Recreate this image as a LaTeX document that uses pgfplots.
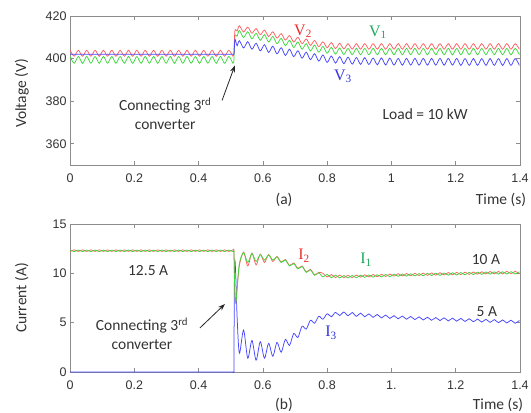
\documentclass[border=0pt]{standalone}
\usepackage{pgfplots}
\pgfplotsset{compat=1.18}
\usepackage{pgfplotstable}
\usepackage{fontspec}
\setmainfont{Carlito}
\newfontfamily\tickfont{Liberation Sans}
\newfontfamily\seriffont{Liberation Serif}
\usetikzlibrary{arrows.meta}
\definecolor{lR}{RGB}{255,95,95}
\definecolor{lG}{RGB}{60,215,60}
\definecolor{lB}{RGB}{70,70,255}
\definecolor{tR}{RGB}{235,45,45}
\definecolor{tG}{RGB}{30,170,90}
\definecolor{tB}{RGB}{50,50,225}

\pgfplotstableread{
t V1 V2 V3 I1 I2 I3
0.000 401.0 403.9 402.0 12.36 12.22 0
0.013 397.8 401.1 402.0 12.20 12.38 0
0.026 401.0 403.9 402.0 12.36 12.22 0
0.039 397.8 401.1 402.0 12.20 12.38 0
0.052 401.0 403.9 402.0 12.36 12.22 0
0.065 397.8 401.1 402.0 12.20 12.38 0
0.078 401.0 403.9 402.0 12.36 12.22 0
0.091 397.8 401.1 402.0 12.20 12.38 0
0.104 401.0 403.9 402.0 12.36 12.22 0
0.117 397.8 401.1 402.0 12.20 12.38 0
0.130 401.0 403.9 402.0 12.36 12.22 0
0.143 397.8 401.1 402.0 12.20 12.38 0
0.156 401.0 403.9 402.0 12.36 12.22 0
0.169 397.8 401.1 402.0 12.20 12.38 0
0.182 401.0 403.9 402.0 12.36 12.22 0
0.195 397.8 401.1 402.0 12.20 12.38 0
0.208 401.0 403.9 402.0 12.36 12.22 0
0.221 397.8 401.1 402.0 12.20 12.38 0
0.234 401.0 403.9 402.0 12.36 12.22 0
0.247 397.8 401.1 402.0 12.20 12.38 0
0.260 401.0 403.9 402.0 12.36 12.22 0
0.273 397.8 401.1 402.0 12.20 12.38 0
0.286 401.0 403.9 402.0 12.36 12.22 0
0.299 397.8 401.1 402.0 12.20 12.38 0
0.312 401.0 403.9 402.0 12.36 12.22 0
0.325 397.8 401.1 402.0 12.20 12.38 0
0.338 401.0 403.9 402.0 12.36 12.22 0
0.351 397.8 401.1 402.0 12.20 12.38 0
0.364 401.0 403.9 402.0 12.36 12.22 0
0.377 397.8 401.1 402.0 12.20 12.38 0
0.390 401.0 403.9 402.0 12.36 12.22 0
0.403 397.8 401.1 402.0 12.20 12.38 0
0.416 401.0 403.9 402.0 12.36 12.22 0
0.429 397.8 401.1 402.0 12.20 12.38 0
0.442 401.0 403.9 402.0 12.36 12.22 0
0.455 397.8 401.1 402.0 12.20 12.38 0
0.468 401.0 403.9 402.0 12.36 12.22 0
0.481 397.8 401.1 402.0 12.20 12.38 0
0.494 401.0 403.9 402.0 12.36 12.22 0
0.507 397.8 401.1 402.0 12.20 12.38 0
0.510 399.4 402.5 402.0 12.28 12.30 0
0.511 405.0 407.0 404.0 10.5 10.6 8.0
0.513 410.5 413.0 409.0 8.0 8.0 11.3
0.516 411.0 413.5 408.0 7.0 7.0 9.5
0.520 410.5 413.0 406.0 8.5 8.5 5.5
0.527 413.2 415.4 408.4 11.0 10.8 1.9
0.540 409.9 412.5 405.0 12.1 12.15 4.25
0.553 412.6 414.8 407.9 11.1 10.75 1.4
0.566 409.3 411.9 404.4 12.0 12.05 3.2
0.579 411.9 414.1 407.2 11.2 10.85 1.2
0.592 408.6 411.2 403.6 11.9 11.95 3.07
0.605 411.2 413.4 406.5 11.35 11.1 1.4
0.618 407.8 410.4 402.9 11.85 11.9 2.9
0.631 410.4 412.6 405.8 11.35 11.2 1.6
0.644 407.0 409.6 402.2 11.65 11.7 3.0
0.657 409.5 411.7 405.1 11.1 11.15 2.0
0.670 406.1 408.7 401.5 11.35 11.4 3.3
0.683 408.6 410.8 404.4 10.75 10.8 2.7
0.696 405.2 407.8 400.9 11.0 11.05 3.9
0.709 407.8 410.0 403.7 10.45 10.5 3.5
0.722 404.4 407.0 400.2 10.7 10.75 4.65
0.735 407.0 409.2 403.0 10.1 10.15 4.35
0.748 403.6 406.2 399.5 10.35 10.4 5.25
0.761 406.3 408.5 402.3 9.8 9.85 4.95
0.774 403.0 405.6 398.8 10.05 10.1 5.65
0.787 405.7 407.9 401.7 9.63 10.0 5.35
0.800 402.5 405.1 398.2 9.9 9.63 5.9
0.813 405.3 407.5 401.2 9.55 9.88 5.6
0.826 402.1 404.7 397.9 9.82 9.57 6.05
0.839 405.0 407.2 400.9 9.53 9.82 5.72
0.852 401.9 404.5 397.6 9.78 9.55 6.08
0.865 404.8 407.0 400.7 9.53 9.8 5.7
0.878 401.8 404.4 397.4 9.78 9.57 6.03
0.891 404.8 407.0 400.5 9.55 9.82 5.64
0.904 401.8 404.4 397.3 9.82 9.61 5.97
0.917 404.8 407.0 400.4 9.59 9.86 5.6
0.930 401.8 404.4 397.2 9.84 9.63 5.89
0.943 404.8 407.0 400.3 9.61 9.88 5.54
0.956 401.8 404.4 397.1 9.86 9.65 5.83
0.969 404.8 407.0 400.3 9.63 9.9 5.48
0.982 401.8 404.4 397.0 9.89 9.68 5.77
0.995 404.8 407.0 400.2 9.66 9.93 5.43
1.008 401.8 404.4 396.9 9.92 9.71 5.71
1.021 404.8 407.0 400.1 9.69 9.96 5.39
1.034 401.8 404.4 396.9 9.94 9.73 5.67
1.047 404.8 407.0 400.1 9.71 9.98 5.35
1.060 401.8 404.4 396.9 9.96 9.75 5.63
1.073 404.8 407.0 400.1 9.73 10.0 5.31
1.086 401.8 404.4 396.9 9.98 9.77 5.59
1.099 404.8 407.0 400.1 9.75 10.02 5.27
1.112 401.8 404.4 396.9 10.0 9.79 5.55
1.125 404.8 407.0 400.1 9.77 10.04 5.24
1.138 401.8 404.4 396.9 10.02 9.81 5.52
1.151 404.8 407.0 400.1 9.79 10.06 5.21
1.164 401.8 404.4 396.9 10.04 9.83 5.49
1.177 404.8 407.0 400.1 9.81 10.08 5.18
1.190 401.8 404.4 396.9 10.06 9.85 5.46
1.203 404.8 407.0 400.1 9.83 10.1 5.15
1.216 401.8 404.4 396.8 10.08 9.87 5.43
1.229 404.8 407.0 400.0 9.85 10.12 5.12
1.242 401.8 404.4 396.8 10.1 9.89 5.4
1.255 404.8 407.0 400.0 9.87 10.14 5.09
1.268 401.8 404.4 396.8 10.12 9.91 5.37
1.281 404.8 407.0 400.0 9.89 10.16 5.06
1.294 401.8 404.4 396.8 10.14 9.93 5.34
1.307 404.8 407.0 400.0 9.91 10.18 5.03
1.320 401.8 404.4 396.8 10.15 9.94 5.31
1.333 404.8 407.0 400.0 9.92 10.19 5.0
1.346 401.8 404.4 396.8 10.16 9.95 5.28
1.359 404.8 407.0 400.0 9.93 10.2 4.97
1.372 401.8 404.4 396.8 10.17 9.96 5.25
1.385 404.8 407.0 400.0 9.93 10.2 4.94
1.398 401.8 404.4 396.8 10.17 9.96 5.22
}\data

\pgfplotsset{
  myax/.style={
    scale only axis, width=450pt,
    xmin=0, xmax=1.4,
    xtick={0,0.2,0.4,0.6,0.8,1,1.2,1.4},
    tick align=inside,
    axis line style={draw=black!45, line width=0.6pt},
    every tick/.style={draw=black!45, line width=0.6pt},
    major tick length=4pt,
    tick label style={font=\tickfont\fontsize{12.5}{13}\selectfont, text=black!80},
    xticklabel style={yshift=-5pt},
    /pgf/number format/assume math mode=true,
    ylabel style={font=\fontsize{15.5}{16}\selectfont, text=black!80},
    every axis plot/.append style={line width=0.75pt, smooth, tension=0.5},
  }
}

\begin{document}
\begin{tikzpicture}
\path[use as bounding box] (0pt,0pt) rectangle (531pt,413pt);
\begin{axis}[myax, at={(70pt,248pt)}, anchor=south west, height=149pt,
  ymin=350, ymax=420, ytick={360,380,400,420},
  xticklabels={0,0.2,0.4,0.6,0.8,1,1.2,1.4},
  ylabel={Voltage (V)},
  ylabel style={at={(axis description cs:-0.107,0.48)}, anchor=center}]
\addplot[lG] table[x=t,y=V1] {\data};
\addplot[lR] table[x=t,y=V2] {\data};
\addplot[lB] table[x=t,y=V3] {\data};
\node[text=tR, font=\seriffont\fontsize{16}{16}\selectfont] at (axis cs:0.725,412.9) {V\textsubscript{2}};
\node[text=tG, font=\seriffont\fontsize{16}{16}\selectfont] at (axis cs:0.958,412.4) {V\textsubscript{1}};
\node[text=tB, font=\seriffont\fontsize{16}{16}\selectfont] at (axis cs:0.849,391.6) {V\textsubscript{3}};
\node[font=\fontsize{15.5}{16}\selectfont, text=black!80] at (axis cs:1.105,373.7) {Load = 10 kW};
\node[font=\fontsize{15.5}{19}\selectfont, text=black!80, align=center] at (axis cs:0.296,374.1) {Connecting 3\textsuperscript{rd}\\converter};
\draw[-{Stealth[length=7pt,width=5pt]}, line width=0.8pt, black!85] (axis cs:0.473,380.3) -- (axis cs:0.513,396.8);
\end{axis}

\begin{axis}[myax, at={(70pt,41pt)}, anchor=south west, height=148pt,
  ymin=0, ymax=15, ytick={0,5,10,15},
  xticklabels={0,0.2,0.4,0.6,0.8,1.,1.2,1.4},
  ylabel={Current (A)},
  ylabel style={at={(axis description cs:-0.107,0.5)}, anchor=center}]
\addplot[lB] table[x=t,y=I3] {\data};
\addplot[lR] table[x=t,y=I2] {\data};
\addplot[lG] table[x=t,y=I1] {\data};
\node[text=tR, font=\seriffont\fontsize{16}{16}\selectfont] at (axis cs:0.728,11.76) {I\textsubscript{2}};
\node[text=tG, font=\seriffont\fontsize{16}{16}\selectfont] at (axis cs:0.921,11.35) {I\textsubscript{1}};
\node[text=tB, font=\seriffont\fontsize{16}{16}\selectfont] at (axis cs:0.812,3.95) {I\textsubscript{3}};
\node[font=\fontsize{15.5}{16}\selectfont, text=black!80] at (axis cs:1.294,11.35) {10 A};
\node[font=\fontsize{15.5}{16}\selectfont, text=black!80] at (axis cs:1.297,6.08) {5 A};
\node[font=\fontsize{15.5}{16}\selectfont, text=black!80] at (axis cs:0.243,10.24) {12.5 A};
\node[font=\fontsize{15.5}{19}\selectfont, text=black!80, align=center] at (axis cs:0.224,3.9) {Connecting 3\textsuperscript{rd}\\converter};
\draw[-{Stealth[length=7pt,width=5pt]}, line width=0.8pt, black!85] (axis cs:0.404,4.46) -- (axis cs:0.482,6.89);
\end{axis}

\node[font=\fontsize{15.5}{16}\selectfont, text=black!80] at (284pt,213pt) {(a)};
\node[font=\fontsize{15.5}{16}\selectfont, text=black!80] at (501pt,213pt) {Time (s)};
\node[font=\fontsize{15.5}{16}\selectfont, text=black!80] at (284pt,8pt) {(b)};
\node[font=\fontsize{15.5}{16}\selectfont, text=black!80] at (498pt,8pt) {Time (s)};
\end{tikzpicture}
\end{document}
